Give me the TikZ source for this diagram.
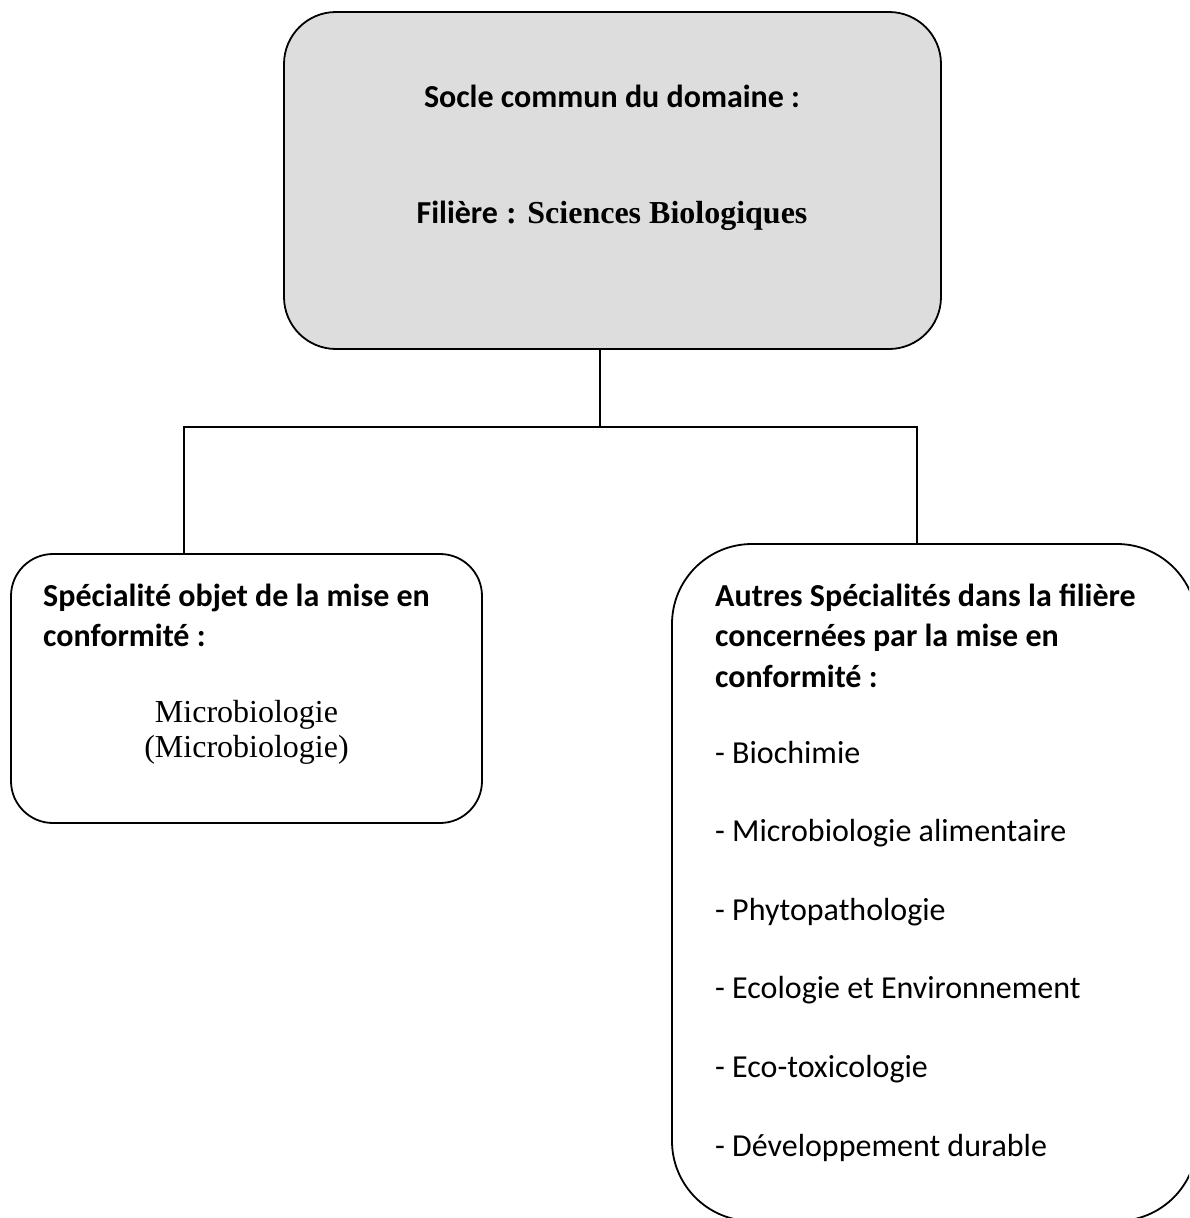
\documentclass[tikz,border=0pt]{standalone}
\usepackage{fontspec}
\setmainfont{Liberation Serif}
\newfontfamily\calibri{Carlito}
\definecolor{fondgris}{RGB}{221,221,221}
\tikzset{
  cadre/.style={draw, line width=1.8pt},
  trait/.style={line width=1.8pt},
  txt/.style={inner sep=0pt, font=\calibri\fontsize{32}{39}\selectfont},
  txtb/.style={inner sep=0pt, font=\calibri\bfseries\fontsize{32}{39}\selectfont},
  rom/.style={inner sep=0pt, font=\fontsize{32}{37}\selectfont},
}

\begin{document}
\begin{tikzpicture}[x=1pt,y=-1pt]
\useasboundingbox (0,0) rectangle (1189,1218);
\clip (0,0) rectangle (1189,1218);

% cadres
\node (socle) [cadre, fill=fondgris, rounded corners=52pt, minimum width=657pt, minimum height=337pt] at (612.5,180.5) {};
\node (gauche) [cadre, rounded corners=42pt, minimum width=471pt, minimum height=269pt] at (246.5,688.5) {};
\node (autres) [cadre, rounded corners=80pt, minimum width=525pt, minimum height=677pt] at (934.5,882.5) {};

% liaisons
\coordinate (fourche) at (600,427);
\coordinate (brG) at (184,427);
\coordinate (brD) at (917,427);
\draw [trait] (socle.south -| fourche) -- (fourche);
\draw [trait] (brG |- gauche.north) -- (brG) -- (brD) -- (brD |- autres.north);

% textes du socle
\node (socleA) [txtb, anchor=base] at (612,107) {Socle commun du domaine :};
\node (socleB) [rom, anchor=base] at (612,223) {{\calibri\bfseries Filière} \textbf{: Sciences Biologiques}};

% specialite
\node (specA) [txtb, anchor=base west] at (43,606) {Spécialité objet de la mise en};
\node (specB) [txtb, anchor=base west] at (43,646) {conformité :};
\node (microA) [rom, anchor=base] at (246.5,722) {Microbiologie};
\node (microB) [rom, anchor=base] at (246.5,757) {(Microbiologie)};

% autres specialites
\node (autA) [txtb, anchor=base west] at (715,606) {Autres Spécialités dans la filière};
\node (autB) [txtb, anchor=base west] at (715,646) {concernées par la mise en};
\node (autC) [txtb, anchor=base west] at (715,687) {conformité :};
\foreach \nom [count=\i from 0] in {Biochimie, Microbiologie alimentaire, Phytopathologie,
    Ecologie et Environnement, Eco-toxicologie, Développement durable}
  \node (item\i) [txt, anchor=base west] at (715,{763+78.6*\i}) {- \nom};
\end{tikzpicture}
\end{document}
